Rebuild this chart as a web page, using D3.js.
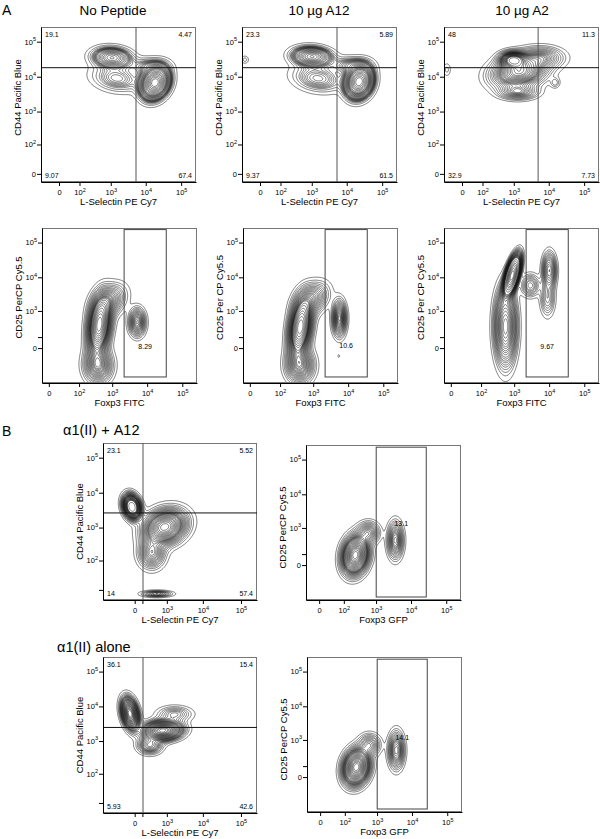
<!DOCTYPE html>
<html>
<head>
<meta charset="utf-8">
<script src="https://cdn.jsdelivr.net/npm/d3@7"></script>
<style>
  body { margin: 0; background: #fff; }
  svg { display: block; font-family: "Liberation Sans", Arial, sans-serif; }
  text { fill: #000; }
</style>
</head>
<body>
<div class="vis"></div>
<script>
// tick values shared by all biexponential axes
const majorTicks = [0, 1e2, 1e3, 1e4, 1e5]
const minorMantissa = [2, 3, 4, 5, 6, 7, 8, 9]

// axes: symlog constant and range of the display, labelled ticks
const axisLsel = { c: 36, min: -80, max: 262144, labels: [0, 1e2, 1e3, 1e4, 1e5] }
const axisCd44 = { c: 17, min: -12, max: 262144, labels: [0, 1e2, 1e3, 1e4, 1e5] }
const axisFitc = { c: 16, min: -9, max: 262144, labels: [0, 1e2, 1e3, 1e4, 1e5] }
const axisCd25 = { c: 94, min: -850, max: 262144, labels: [0, 1e3, 1e4, 1e5] }
const axisLselB = { c: 170, min: -970, max: 262144, labels: [0, 1e3, 1e4, 1e5] }
const axisCd44B = { c: 17, min: -16, max: 262144, labels: [1e2, 1e3, 1e4, 1e5] }
const axisGfp = { c: 25, min: -34, max: 262144, labels: [0, 1e2, 1e3, 1e4, 1e5] }

// cell populations: [x value, y value, sd x (decades), sd y (decades), correlation, weight]
const popsNoPeptide = [
  [1090, 35000, 0.3, 0.16, -0.1, 0.19],
  [18250, 6770, 0.21, 0.24, 0.2, 0.6],
  [1500, 9000, 0.4, 0.22, -0.2, 0.12],
  [12000, 20000, 0.32, 0.14, 0, 0.05]
]
const popsA12 = [
  [1020, 37500, 0.3, 0.15, -0.1, 0.22],
  [22300, 7200, 0.2, 0.24, 0.15, 0.56],
  [1500, 9000, 0.4, 0.22, -0.2, 0.13],
  [13000, 21000, 0.32, 0.14, 0, 0.06],
  [-60, 30700, 0.07, 0.07, 0, 0.002]
]
const popsA2 = [
  [950, 30700, 0.2, 0.12, 0, 0.15],
  [1420, 13900, 0.42, 0.25, 0.2, 0.55],
  [6000, 35000, 0.35, 0.17, 0, 0.12],
  [1330, 3700, 0.3, 0.12, 0, 0.08],
  [15100, 6770, 0.08, 0.09, 0, 0.004],
  [-60, 15900, 0.07, 0.12, 0, 0.003]
]
const popsFoxNoPeptide = [
  [420, 330, 0.18, 0.45, 0.25, 0.58],
  [800, 2000, 0.27, 0.27, 0.3, 0.14],
  [390, -194, 0.22, 0.28, 0, 0.18],
  [5200, 425, 0.13, 0.22, 0, 0.08]
]
const popsFoxA12 = [
  [420, 280, 0.18, 0.45, 0.3, 0.55],
  [900, 2300, 0.27, 0.27, 0.3, 0.14],
  [410, -194, 0.22, 0.28, 0, 0.18],
  [5600, 580, 0.11, 0.28, 0, 0.1],
  [5400, -65, 0.03, 0.05, 0, 0.0003]
]
const popsFoxA2 = [
  [870, 11300, 0.11, 0.27, 0.6, 0.5],
  [560, 300, 0.17, 0.6, 0, 0.35],
  [10100, 15800, 0.11, 0.28, 0, 0.06],
  [9000, 2500, 0.12, 0.3, 0, 0.03],
  [2900, 5800, 0.15, 0.18, 0, 0.03]
]
const popsCollA12 = [
  [-30, 3940, 0.12, 0.18, -0.2, 0.25],
  [860, 1040, 0.3, 0.27, 0.2, 0.56],
  [300, 175, 0.19, 0.24, 0, 0.12],
  [470, -5, 0.22, 0.05, 0, 0.02]
]
const popsCollAlone = [
  [-55, 6200, 0.12, 0.24, -0.3, 0.33],
  [740, 2020, 0.27, 0.15, 0.1, 0.47],
  [1700, 6000, 0.26, 0.13, 0, 0.06],
  [250, 750, 0.18, 0.14, 0, 0.08]
]
const popsGfpA12 = [
  [240, 88, 0.19, 0.28, 0.15, 0.75],
  [600, 700, 0.17, 0.17, 0, 0.08],
  [3570, 390, 0.12, 0.28, 0, 0.13]
]
const popsGfpAlone = [
  [240, 88, 0.19, 0.26, 0.15, 0.75],
  [600, 700, 0.17, 0.17, 0, 0.07],
  [3570, 460, 0.12, 0.28, 0, 0.14]
]

// quadrant frequencies [UL, UR, LL, LR] and gate position [x, y]
const quadNoPeptide = [19.1, 4.47, 9.07, 67.4]
const quadA12 = [23.3, 5.89, 9.37, 61.5]
const quadA2 = [48, 11.3, 32.9, 7.73]
const quadCollA12 = [23.1, 5.52, 14, 57.4]
const quadCollAlone = [36.1, 15.4, 5.93, 42.6]
const quadGateA = [[5300, 18100], [5300, 18100], [5000, 18100]]
const quadGateB = [[110, 2640], [110, 2480]]

// Foxp3+ gate frequency, gate box [x0, x1, y0, y1], label height
const foxpFreq = [8.29, 10.6, 9.67, 13.1, 14.1]
const foxpGateFitc = [2200, 35000, -540, 236000]
const foxpGateGfp = [1010, 27100, -680, 227000]
const foxpLabelY = [15, 20, 15, 1400, 1200]

const columnTitles = ['No Peptide', '10 µg A12', '10 µg A2']
const rowTitles = ['α1(II) + A12', 'α1(II) alone']

const panels = [
  { x: 41, y: 27, w: 155, h: 155, xa: axisLsel, ya: axisCd44, xLabel: 'L-Selectin PE Cy7', yLabel: 'CD44 Pacific Blue', ylShift: -7, pops: popsNoPeptide, quad: quadNoPeptide, qGate: quadGateA[0] },
  { x: 242, y: 27, w: 155, h: 155, xa: axisLsel, ya: axisCd44, xLabel: 'L-Selectin PE Cy7', yLabel: 'CD44 Pacific Blue', ylShift: -7, pops: popsA12, quad: quadA12, qGate: quadGateA[1] },
  { x: 444, y: 27, w: 155, h: 155, xa: axisLsel, ya: axisCd44, xLabel: 'L-Selectin PE Cy7', yLabel: 'CD44 Pacific Blue', ylShift: -7, pops: popsA2, quad: quadA2, qGate: quadGateA[2] },
  { x: 42, y: 228, w: 155, h: 155, xa: axisFitc, ya: axisCd25, xLabel: 'Foxp3 FITC', yLabel: 'CD25 PerCP Cy5.5', ylShift: -8, pops: popsFoxNoPeptide, gate: foxpGateFitc, freq: 0 },
  { x: 243, y: 228, w: 155, h: 155, xa: axisFitc, ya: axisCd25, xLabel: 'Foxp3 FITC', yLabel: 'CD25 Per CP Cy5.5', ylShift: -8, pops: popsFoxA12, gate: foxpGateFitc, freq: 1 },
  { x: 444, y: 228, w: 155, h: 155, xa: axisFitc, ya: axisCd25, xLabel: 'Foxp3 FITC', yLabel: 'CD25 Per CP Cy5.5', ylShift: -8, pops: popsFoxA2, gate: foxpGateFitc, freq: 2 },
  { x: 103, y: 443, w: 154, h: 157, xa: axisLselB, ya: axisCd44B, xLabel: 'L-Selectin PE Cy7', yLabel: 'CD44 Pacific Blue', ylShift: 0, pops: popsCollA12, quad: quadCollA12, qGate: quadGateB[0] },
  { x: 306, y: 445, w: 155, h: 155, xa: axisGfp, ya: axisCd25, xLabel: 'Foxp3 GFP', yLabel: 'CD25 PerCP Cy5.5', ylShift: 5, pops: popsGfpA12, gate: foxpGateGfp, freq: 3 },
  { x: 103, y: 657, w: 154, h: 156, xa: axisLselB, ya: axisCd44B, xLabel: 'L-Selectin PE Cy7', yLabel: 'CD44 Pacific Blue', ylShift: 0, pops: popsCollAlone, quad: quadCollAlone, qGate: quadGateB[1] },
  { x: 307, y: 657, w: 155, h: 155, xa: axisGfp, ya: axisCd25, xLabel: 'Foxp3 GFP', yLabel: 'CD25 PerCP Cy5.5', ylShift: 5, pops: popsGfpAlone, gate: foxpGateGfp, freq: 4 }
]

const svg = d3.select('.vis').append('svg').attr('width', 600).attr('height', 839)

// contour levels: equal shares of (density ^ 0.7), so small populations still get rings
const levels = d3.range(0.035, 0.93, 0.035).concat([0.95])
const levelPower = 0.7

function symlog(def) {
  return v => Math.sign(v) * Math.log1p(Math.abs(v) / def.c)
}

function minorTicks(def) {
  const out = []
  for (let n = 1; n <= 4; n++) {
    minorMantissa.forEach(m => {
      const v = m * Math.pow(10, n)
      if (v < def.max) out.push(v)
      if (-v > def.min) out.push(-v)
    })
  }
  return out
}

function supLabel(sel) {
  sel.each(function (d) {
    const t = d3.select(this).text('')
    if (d === 0) {
      t.text('0')
      return
    }
    t.append('tspan').text('10')
    t.append('tspan').attr('dy', -3.5).attr('font-size', 5.5).text(Math.round(Math.log10(d)))
  })
}

panels.forEach((p, pi) => {
  const g = svg.append('g').attr('transform', `translate(${p.x},${p.y})`)
  const x = d3.scaleSymlog().constant(p.xa.c).domain([p.xa.min, p.xa.max]).range([0, p.w])
  const y = d3.scaleSymlog().constant(p.ya.c).domain([p.ya.min, p.ya.max]).range([p.h, 0])
  const tx = symlog(p.xa)
  const ty = symlog(p.ya)

  // density grid, one cell per pixel
  const pops = p.pops.map(([vx, vy, sx, sy, rho, w]) => ({
    ux: tx(vx), uy: ty(vy), sx: sx * Math.LN10, sy: sy * Math.LN10, rho, w
  }))
  const n = p.w
  const m = p.h
  const values = new Float64Array(n * m)
  const colU = d3.range(n).map(i => tx(x.invert(i + 0.5)))
  for (let j = 0; j < m; j++) {
    const uy = ty(y.invert(j + 0.5))
    for (let i = 0; i < n; i++) {
      const ux = colU[i]
      let s = 0
      pops.forEach(q => {
        const dx = (ux - q.ux) / q.sx
        const dy = (uy - q.uy) / q.sy
        const r = 1 - q.rho * q.rho
        s += q.w / (q.sx * q.sy * Math.sqrt(r)) *
          Math.exp(-(dx * dx + dy * dy - 2 * q.rho * dx * dy) / (2 * r))
      })
      values[j * n + i] = s
    }
  }

  const sorted = Array.from(values).sort((a, b) => b - a)
  const total = d3.sum(sorted, v => Math.pow(v, levelPower))
  const thresholds = []
  let cum = 0
  let k = 0
  for (let idx = 0; idx < sorted.length && k < levels.length; idx++) {
    cum += Math.pow(sorted[idx], levelPower)
    while (k < levels.length && cum >= levels[k] * total) {
      thresholds.push(sorted[idx])
      k++
    }
  }

  const clipId = `clip-${pi}`
  g.append('clipPath').attr('id', clipId)
    .append('rect').attr('width', p.w).attr('height', p.h)

  g.append('g')
    .attr('clip-path', `url(#${clipId})`)
    .selectAll('path')
    .data(d3.contours().size([n, m]).thresholds(thresholds)(values))
    .join('path')
    .attr('d', d3.geoPath())
    .attr('fill', 'none')
    .attr('stroke', '#111')
    .attr('stroke-width', 0.55)

  // frame
  g.append('rect')
    .attr('x', 0.5).attr('y', 0.5)
    .attr('width', p.w - 1).attr('height', p.h - 1)
    .attr('fill', 'none').attr('stroke', '#777').attr('stroke-width', 1)

  // gates
  if (p.quad) {
    g.append('line')
      .attr('x1', x(p.qGate[0])).attr('x2', x(p.qGate[0]))
      .attr('y1', 0).attr('y2', p.h)
      .attr('stroke', '#555').attr('stroke-width', 1)
    g.append('line')
      .attr('x1', 0).attr('x2', p.w)
      .attr('y1', y(p.qGate[1])).attr('y2', y(p.qGate[1]))
      .attr('stroke', '#111').attr('stroke-width', 1)
    const qt = [
      [4, 10, 'start'], [p.w - 4, 10, 'end'],
      [4, p.h - 4, 'start'], [p.w - 4, p.h - 4, 'end']
    ]
    p.quad.forEach((v, i) => {
      g.append('text')
        .attr('x', qt[i][0]).attr('y', qt[i][1])
        .attr('text-anchor', qt[i][2])
        .attr('font-size', 7)
        .text(v)
    })
  }
  if (p.gate) {
    const [gx0, gx1, gy0, gy1] = p.gate
    g.append('rect')
      .attr('x', x(gx0)).attr('y', y(gy1))
      .attr('width', x(gx1) - x(gx0)).attr('height', y(gy0) - y(gy1))
      .attr('fill', 'none').attr('stroke', '#444').attr('stroke-width', 1)
    g.append('text')
      .attr('x', (x(gx0) + x(gx1)) / 2)
      .attr('y', y(foxpLabelY[p.freq]) + 3)
      .attr('text-anchor', 'middle')
      .attr('font-size', 7)
      .text(foxpFreq[p.freq])
  }

  // axes
  const majorsX = majorTicks.filter(v => v >= p.xa.min && v <= p.xa.max)
  const majorsY = majorTicks.filter(v => v >= p.ya.min && v <= p.ya.max)

  const xAxis = g.append('g').attr('transform', `translate(0,${p.h})`)
  xAxis.call(d3.axisBottom(x).tickValues(minorTicks(p.xa)).tickSize(2).tickSizeOuter(0).tickFormat(''))
  xAxis.call(d3.axisBottom(x).tickValues(majorsX).tickSize(4).tickSizeOuter(0)
    .tickFormat(v => (p.xa.labels.includes(v) ? v : '')))
  xAxis.selectAll('.domain').attr('stroke', '#000')
  xAxis.selectAll('.tick line').attr('stroke', '#000')
  xAxis.selectAll('.tick text')
    .attr('font-size', 7.5).attr('font-family', null).attr('fill', '#000').attr('y', 8).attr('dy', '0.71em')
    .filter(d => p.xa.labels.includes(d)).call(supLabel)

  const yAxis = g.append('g')
  yAxis.call(d3.axisLeft(y).tickValues(minorTicks(p.ya)).tickSize(2).tickSizeOuter(0).tickFormat(''))
  yAxis.call(d3.axisLeft(y).tickValues(majorsY).tickSize(4).tickSizeOuter(0)
    .tickFormat(v => (p.ya.labels.includes(v) ? v : '')))
  yAxis.selectAll('.domain').attr('stroke', '#000')
  yAxis.selectAll('.tick line').attr('stroke', '#000')
  yAxis.selectAll('.tick text')
    .attr('font-size', 7.5).attr('font-family', null).attr('fill', '#000').attr('x', -5)
    .filter(d => p.ya.labels.includes(d)).call(supLabel)

  // axis titles
  g.append('text')
    .attr('x', p.w / 2).attr('y', p.h + 23)
    .attr('text-anchor', 'middle').attr('font-size', 9.5)
    .text(p.xLabel)
  g.append('text')
    .attr('transform', `translate(-20,${p.h / 2 + p.ylShift}) rotate(-90)`)
    .attr('text-anchor', 'middle').attr('font-size', 9.5)
    .text(p.yLabel)
})

// titles
const titleX = [113, 319, 522]
columnTitles.forEach((t, i) => {
  svg.append('text')
    .attr('x', titleX[i]).attr('y', 15)
    .attr('text-anchor', 'middle').attr('font-size', 13.5)
    .text(t)
})
svg.append('text').attr('x', 2).attr('y', 15).attr('font-size', 14).text('A')
svg.append('text').attr('x', 2).attr('y', 436).attr('font-size', 14).text('B')
svg.append('text').attr('x', 63).attr('y', 435).attr('font-size', 14.5).text(rowTitles[0])
svg.append('text').attr('x', 57).attr('y', 652).attr('font-size', 14.5).text(rowTitles[1])
</script>
</body>
</html>
